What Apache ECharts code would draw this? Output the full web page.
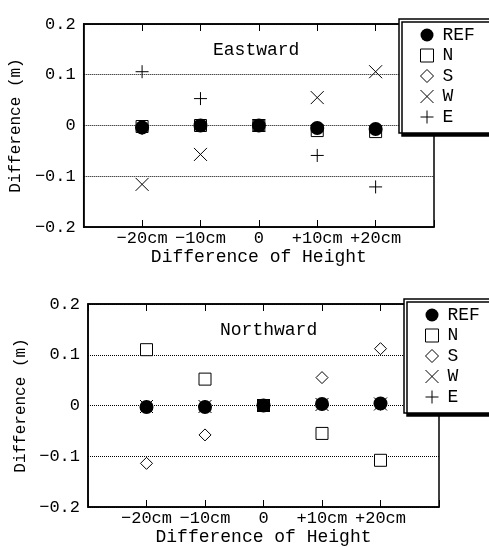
<!DOCTYPE html>
<html>
<head>
<meta charset="utf-8">
<script src="https://cdn.jsdelivr.net/npm/echarts@6/dist/echarts.min.js"></script>
<style>
  html, body { margin: 0; padding: 0; background: #fff; }
</style>
</head>
<body>
<div id="main" style="width:489px;height:547px;"></div>
<script>
  // heights (cm)
  var heights = [-20, -10, 0, 10, 20];
  var seriesNames = ['REF', 'N', 'S', 'W', 'E'];

  // Eastward difference (m)
  var eastREF = [-0.004, 0.000, 0.000, -0.005, -0.007];
  var eastN = [-0.002, 0.000, 0.000, -0.010, -0.012];
  var eastS = [-0.006, 0.000, 0.000, -0.005, -0.008];
  var eastW = [-0.116, -0.057, 0.000, 0.055, 0.106];
  var eastE = [0.106, 0.053, 0.000, -0.059, -0.121];

  // Northward difference (m)
  var northREF = [-0.003, -0.003, 0.000, 0.003, 0.004];
  var northN = [0.110, 0.052, 0.000, -0.055, -0.108];
  var northS = [-0.114, -0.058, 0.000, 0.055, 0.112];
  var northW = [-0.002, -0.002, 0.000, 0.002, 0.003];
  var northE = [-0.002, -0.002, 0.000, 0.002, 0.003];

  var yTicks = [-0.2, -0.1, 0, 0.1, 0.2];

  var FONT = '"Liberation Mono", "DejaVu Sans Mono", monospace';

  var symbols = {
    REF: {symbol: 'circle', symbolSize: 14, itemStyle: {color: '#000', opacity: 1}},
    N: {symbol: 'rect', symbolSize: 12, itemStyle: {color: '#fff', borderColor: '#000', borderWidth: 1, opacity: 1}},
    S: {symbol: 'diamond', symbolSize: 12, itemStyle: {color: '#fff', borderColor: '#000', borderWidth: 1, opacity: 1}},
    W: {symbol: 'path://M0,0L10,10M10,0L0,10', symbolSize: 13, itemStyle: {color: 'transparent', borderColor: '#000', borderWidth: 1, opacity: 1}},
    E: {symbol: 'path://M5,0L5,10M0,5L10,5', symbolSize: 13, itemStyle: {color: 'transparent', borderColor: '#000', borderWidth: 1, opacity: 1}}
  };

  function pairs(vals) {
    var arr = [];
    for (var i = 0; i < heights.length; i++) {
      arr.push([heights[i], vals[i]]);
    }
    return arr;
  }

  function makeSeries(axisIdx, dataSets) {
    var out = [];
    for (var i = 0; i < seriesNames.length; i++) {
      var nm = seriesNames[i];
      out.push({
        name: nm,
        type: 'scatter',
        xAxisIndex: axisIdx * 2,
        yAxisIndex: axisIdx,
        symbol: symbols[nm].symbol,
        symbolSize: symbols[nm].symbolSize,
        itemStyle: symbols[nm].itemStyle,
        z: nm === 'REF' ? 5 : 2,
        emphasis: {disabled: true},
        data: pairs(dataSets[i])
      });
    }
    return out;
  }

  function xLabel(v) {
    if (v < -25 || v > 25) return '';
    if (v === 0) return '0';
    return (v < 0 ? '\u2212' : '+') + Math.abs(v) + 'cm';
  }

  function yLabel(v) {
    if (Math.abs(v) < 1e-9) return '0';
    return (v < 0 ? '\u2212' : '') + Math.abs(v).toFixed(1);
  }

  function bottomX(gridIdx) {
    return {
      type: 'value', gridIndex: gridIdx, position: 'bottom',
      min: -30, max: 30, interval: 10,
      axisLine: {show: true, onZero: false, lineStyle: {color: '#000', width: 1.5}},
      axisTick: {show: true, inside: true, length: 7, lineStyle: {color: '#000'}},
      axisLabel: {formatter: xLabel, color: '#000', fontFamily: FONT, fontSize: 17, margin: 3},
      splitLine: {show: false},
      name: 'Difference of Height', nameLocation: 'middle', nameGap: 19,
      nameTextStyle: {color: '#000', fontFamily: FONT, fontSize: 18}
    };
  }

  function topX(gridIdx) {
    return {
      type: 'value', gridIndex: gridIdx, position: 'top',
      min: -30, max: 30, interval: 10,
      axisLine: {show: true, onZero: false, lineStyle: {color: '#000', width: 1.5}},
      axisTick: {show: true, inside: true, length: 7, lineStyle: {color: '#000'}},
      axisLabel: {show: false},
      splitLine: {show: false}
    };
  }

  function leftY(gridIdx, gap) {
    return {
      type: 'value', gridIndex: gridIdx,
      min: yTicks[0], max: yTicks[yTicks.length - 1], interval: 0.1,
      axisLine: {show: true, onZero: false, lineStyle: {color: '#000', width: 1.5}},
      axisTick: {show: false},
      axisLabel: {formatter: yLabel, color: '#000', fontFamily: FONT, fontSize: 17, margin: 8},
      splitLine: {show: true, lineStyle: {color: '#000', type: 'dotted', width: 1}},
      name: 'Difference (m)', nameLocation: 'middle', nameGap: gap,
      nameTextStyle: {color: '#000', fontFamily: FONT, fontSize: 16}
    };
  }

  function legendAt(left, top) {
    return {
      show: true,
      orient: 'vertical',
      left: left, top: top,
      data: seriesNames,
      selectedMode: false,
      padding: [6, 60, 6, 21],
      itemWidth: 13, itemHeight: 13,
      itemGap: 0.5,
      backgroundColor: '#fff',
      borderColor: '#000',
      borderWidth: 1.5,
      borderRadius: 0,
      shadowColor: '#000',
      shadowBlur: 0,
      shadowOffsetX: 3,
      shadowOffsetY: 3,
      itemStyle: {borderWidth: 1},
      textStyle: {color: '#000', fontFamily: FONT, fontSize: 18, lineHeight: 20, padding: [0, 0, 0, 4]}
    };
  }

  var chart = echarts.init(document.getElementById('main'));
  chart.setOption({
    animation: false,
    backgroundColor: '#fff',
    grid: [
      {left: 82, top: 24, width: 352, height: 203, show: true, borderColor: '#000', borderWidth: 1.5, backgroundColor: 'transparent'},
      {left: 88, top: 304, width: 351, height: 203, show: true, borderColor: '#000', borderWidth: 1.5, backgroundColor: 'transparent'}
    ],
    xAxis: [bottomX(0), topX(0), bottomX(1), topX(1)],
    yAxis: [leftY(0, 54), leftY(1, 55)],
    legend: [legendAt(399, 19), legendAt(404, 299)],
    graphic: [
      {type: 'text', left: 213, top: 41, style: {text: 'Eastward', fill: '#000', font: '18px ' + FONT}},
      {type: 'text', left: 220, top: 321, style: {text: 'Northward', fill: '#000', font: '18px ' + FONT}}
    ],
    series: makeSeries(0, [eastREF, eastN, eastS, eastW, eastE])
      .concat(makeSeries(1, [northREF, northN, northS, northW, northE]))
  });
</script>
</body>
</html>
